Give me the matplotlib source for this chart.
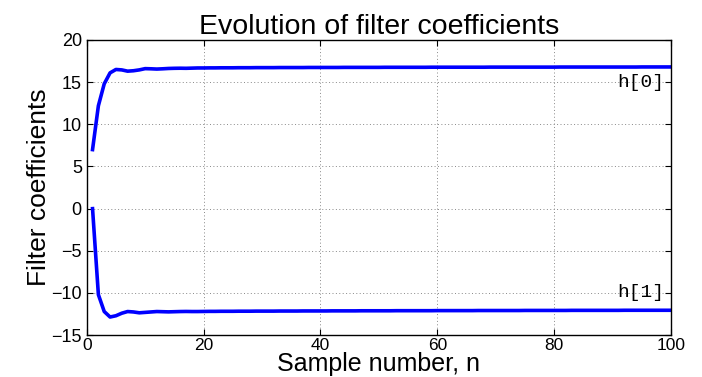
import numpy as np
import matplotlib.pyplot as plt

n = np.arange(1, 101)

h0 = [7.0, 12.2, 14.8, 16.1, 16.5, 16.45, 16.3, 16.35, 16.45, 16.6,
      16.58, 16.55, 16.58, 16.62, 16.64, 16.65, 16.64, 16.66, 16.68, 16.68,
      16.69, 16.69, 16.70, 16.70, 16.70, 16.71, 16.71, 16.71, 16.72, 16.72,
      16.72, 16.72, 16.73, 16.73, 16.73, 16.73, 16.73, 16.74, 16.74, 16.74,
      16.74, 16.74, 16.74, 16.75, 16.75, 16.75, 16.75, 16.75, 16.75, 16.75,
      16.76, 16.76, 16.76, 16.76, 16.76, 16.76, 16.76, 16.76, 16.77, 16.77,
      16.77, 16.77, 16.77, 16.77, 16.77, 16.77, 16.77, 16.77, 16.78, 16.78,
      16.78, 16.78, 16.78, 16.78, 16.78, 16.78, 16.78, 16.78, 16.78, 16.78,
      16.79, 16.79, 16.79, 16.79, 16.79, 16.79, 16.79, 16.79, 16.79, 16.79,
      16.79, 16.79, 16.79, 16.79, 16.80, 16.80, 16.80, 16.80, 16.80, 16.80]

h1 = [0.0, -10.2, -12.2, -12.85, -12.7, -12.4, -12.2, -12.25, -12.35, -12.3,
      -12.25, -12.2, -12.22, -12.24, -12.22, -12.2, -12.19, -12.2, -12.2, -12.19,
      -12.18, -12.18, -12.17, -12.17, -12.17, -12.16, -12.16, -12.16, -12.15, -12.15,
      -12.15, -12.15, -12.14, -12.14, -12.14, -12.14, -12.13, -12.13, -12.13, -12.13,
      -12.13, -12.12, -12.12, -12.12, -12.12, -12.12, -12.11, -12.11, -12.11, -12.11,
      -12.11, -12.11, -12.1, -12.1, -12.1, -12.1, -12.1, -12.1, -12.1, -12.09,
      -12.09, -12.09, -12.09, -12.09, -12.09, -12.09, -12.08, -12.08, -12.08, -12.08,
      -12.08, -12.08, -12.08, -12.08, -12.07, -12.07, -12.07, -12.07, -12.07, -12.07,
      -12.07, -12.07, -12.06, -12.06, -12.06, -12.06, -12.06, -12.06, -12.06, -12.06,
      -12.06, -12.05, -12.05, -12.05, -12.05, -12.05, -12.05, -12.05, -12.05, -12.05]

plt.rcParams['font.family'] = ['Liberation Sans', 'DejaVu Sans']

fig = plt.figure(figsize=(7.02, 3.77), dpi=100)
ax = fig.add_axes([0.1235, 0.111, 0.8325, 0.783])

ax.plot(n, h0, color='#0000ff', lw=2.6)
ax.plot(n, h1, color='#0000ff', lw=2.6)

ax.text(98.8, 15, 'h[0]', family='Liberation Mono', fontsize=14, ha='right', va='center')
ax.text(98.8, -10, 'h[1]', family='Liberation Mono', fontsize=14, ha='right', va='center')

ax.set_xlim(0, 100)
ax.set_ylim(-15, 20)
ax.set_xticks(np.arange(0, 101, 20))
ax.set_yticks(np.arange(-15, 21, 5))
ax.grid(True, linestyle=(0, (1, 2.5)), color='#888888', lw=0.7)
ax.tick_params(direction='in', top=True, right=True, labelsize=13, length=4)
ax.tick_params(axis='x', pad=2, labelsize=12.5)
for s in ax.spines.values():
    s.set_linewidth(1.0)

ax.set_title('Evolution of filter coefficients', fontsize=20.5, pad=4)
ax.set_xlabel('Sample number, n', fontsize=18, labelpad=-1)
ax.set_ylabel('Filter coefficients', fontsize=19, labelpad=0)

fig.savefig('out.png', dpi=100)
